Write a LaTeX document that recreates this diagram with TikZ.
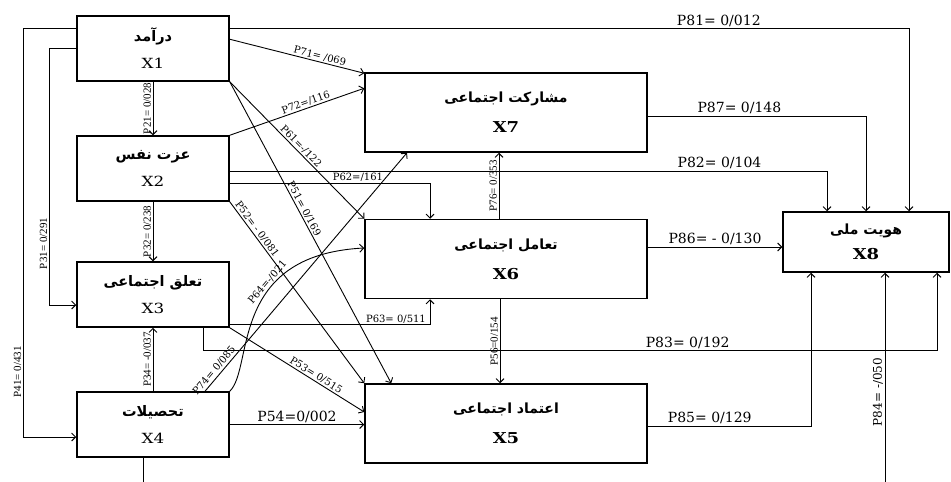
\documentclass[tikz,border=0pt]{standalone}
\usepackage{fontspec}
\usepackage{tikz}
\usetikzlibrary{arrows.meta, positioning, calc}
\setmainfont{DejaVu Serif}
\newfontfamily\fafont[Script=Arabic]{DejaVu Sans}
\newfontfamily\narrowfont{Liberation Serif}
\newfontfamily\boxfont[FakeStretch=1.2]{DejaVu Serif}
\TeXXeTstate=1

\newcommand{\fa}[1]{{\fafont\bfseries\beginR #1\endR}}
\newcommand{\vname}[1]{{\boxfont\fontsize{14}{27}\selectfont #1}}
\newcommand{\bname}[1]{{\boxfont\bfseries\fontsize{15}{30}\selectfont #1}}

\tikzset{
    varbox/.style={draw, line width=1.5pt, minimum width=152pt, minimum height=65pt,
        inner sep=0pt, align=center, font=\fontsize{14.5}{27}\selectfont},
    bigbox/.style={varbox, minimum width=282pt, minimum height=79pt,
        font=\fontsize{14}{30}\selectfont},
    link/.style={->, line width=0.9pt},
    hlab/.style={above, inner sep=1.5pt, font=\fontsize{14}{16}\selectfont},
    slab/.style={above, inner sep=1pt, font=\fontsize{10}{12}\selectfont},
    dlab/.style={sloped, above, inner sep=1pt, font=\fontsize{10}{12}\selectfont},
    vlab/.style={rotate=90, above, inner sep=1.5pt, font=\narrowfont\fontsize{11}{13}\selectfont},
    >={Straight Barb[length=4pt, width=8pt]}
}

\begin{document}
\begin{tikzpicture}[x=1pt, y=-1pt]
    \useasboundingbox (0,0) rectangle (951,482);

    % variables
    \node[varbox] (x1) at (153,48.5) {\fa{درآمد}\\\vname{X1}};
    \node[varbox] (x2) at (153,168.5) {\fa{عزت نفس}\\\vname{X2}};
    \node[varbox] (x3) at (153,294.5) {\fa{تعلق اجتماعی}\\\vname{X3}};
    \node[varbox] (x4) at (153,424.5) {\fa{تحصیلات}\\\vname{X4}};
    \node[bigbox] (x7) at (506,112.5) {\fa{مشارکت اجتماعی}\\\bname{X7}};
    \node[bigbox] (x6) at (506,259) {\fa{تعامل اجتماعی}\\\bname{X6}};
    \node[bigbox] (x5) at (506,423.5) {\fa{اعتماد اجتماعی}\\\bname{X5}};
    \node[bigbox, minimum width=166pt, minimum height=60pt,
        font=\fontsize{14}{25}\selectfont] (x8) at (866,242) {\fa{هویت ملی}\\\bname{X8}};

    \coordinate (b4) at (143,482);
    \coordinate (b8) at (885,482);

    % left column
    \draw[link] (x1.south) -- node[vlab]{P21= 0/028} (x2.north);
    \draw[link] (x2.south) -- node[vlab]{P32= 0/238} (x3.north);
    \draw[link] (x4.north) -- node[vlab]{P34= -0/037} (x3.south);
    \draw[link] (x1.west) -- ++(-27,0) |- node[pos=0.38, vlab]{P31= 0/291} ([yshift=-10.5pt]x3.west);
    \draw[link] ([yshift=-13pt]x1.north west) -- ++(-53,0) |- node[pos=0.42, vlab]{P41= 0/431} ([yshift=-12.5pt]x4.west);

    % to x7, x6, x5
    \draw[link] ([yshift=-24pt]x1.north east) -- node[pos=0.66, dlab]{P71= /069} ([yshift=-1pt]x7.north west);
    \draw[link] (x2.north east) -- node[pos=0.58, dlab]{P72=/116} ([yshift=-16pt]x7.north west);
    \draw[link] (x1.south east) -- node[pos=0.5, dlab]{P61=-/122} (x6.north west);
    \draw[link] (x1.south east) -- node[pos=0.43, dlab]{P51= 0/169} ([xshift=27pt]x5.north west);
    \draw[link] (x2.south east) -- node[pos=0.17, dlab]{P52= - 0/081} (x5.north west);
    \draw[link] ([yshift=-14.5pt]x2.east) -| node[pos=0.32, slab]{P62=/161} ([xshift=-76pt]x6.north);
    \draw[link] ([yshift=3pt]x3.south east) -| node[pos=0.415, slab]{P63= 0/511} ([xshift=-76pt]x6.south);
    \draw[link] (x3.south east) -- node[pos=0.62, dlab]{P53= 0/515} ([yshift=11.5pt]x5.west);
    \draw[link] (x4.east) -- node[hlab]{P54=0/002} (x4.east -| x5.west);
    \draw[link] ([xshift=52pt]x4.north) -- node[pos=0.07, dlab, inner sep=2pt]{P74= 0/085} ([xshift=-99pt]x7.south);
    \draw[link] (x4.north east) .. controls (254,368) and (228,255) .. node[pos=0.65, dlab]{P64=-/021} ([yshift=11pt]x6.west);
    \draw[link] ([xshift=-7pt]x6.north) -- node[vlab]{P76= 0/353} ([xshift=-7pt]x7.south);
    \draw[link] ([xshift=-6pt]x6.south) -- node[vlab]{P56=0/154} ([xshift=-6pt]x5.north);

    % to x8
    \draw[link] ([yshift=-13pt]x1.north east) -| node[pos=0.36, hlab]{P81= 0/012} ([xshift=43pt]x8.north);
    \draw[link] ([yshift=-2.5pt]x2.east) -| node[pos=0.41, hlab]{P82= 0/104} ([xshift=-39pt]x8.north);
    \draw[link] ([yshift=-3.5pt]x7.east) -| node[pos=0.21, hlab]{P87= 0/148} (x8.north);
    \draw[link] ([yshift=12pt]x6.east) -- node[hlab]{P86= - 0/130} ([yshift=-5pt]x8.west);
    \draw[link] ([xshift=-26pt]x3.south east) -- ++(0,23) -| node[pos=0.33, hlab]{P83= 0/192} ([xshift=71pt]x8.south);
    \draw[link] ([yshift=-2.5pt]x5.east) -| node[pos=0.19, hlab]{P85= 0/129} ([xshift=-55pt]x8.south);
    \draw[line width=0.9pt] ([xshift=-10pt]x4.south) -- (b4);
    \draw[link] (b8) -- node[pos=0.43, vlab, font=\fontsize{12}{14}\selectfont]{P84= -/050} ([xshift=19pt]x8.south);
\end{tikzpicture}
\end{document}
